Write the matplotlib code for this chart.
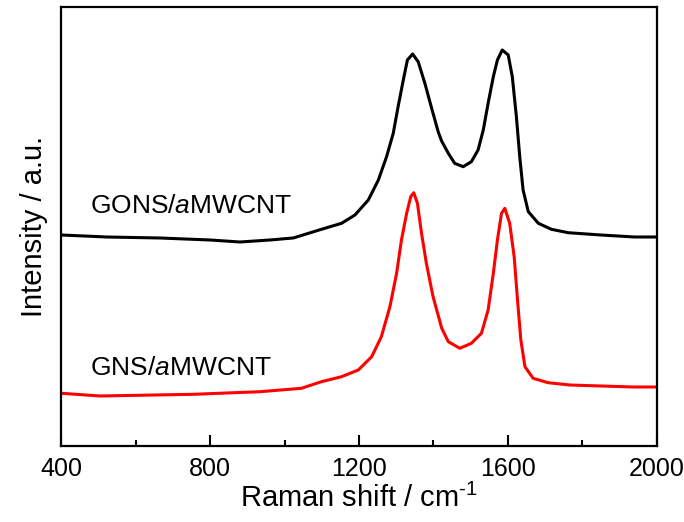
import numpy as np
import matplotlib
matplotlib.use('Agg')
import matplotlib.pyplot as plt
from matplotlib import rc
from matplotlib.ticker import MultipleLocator

rc('font', family='Liberation Sans', size=18)
rc('mathtext', fontset='custom', rm='Liberation Sans',
   it='Liberation Sans:italic')

# Raman shift (cm^-1) and intensity (a.u.)
gons_shift = [400, 522, 665, 800, 880, 960, 1023, 1045, 1099, 1153, 1189,
              1225, 1252, 1274, 1292, 1305, 1319, 1330, 1344, 1359, 1377,
              1395, 1413, 1422, 1440, 1457, 1480, 1502, 1520, 1534, 1547,
              1561, 1572, 1585, 1601, 1612, 1623, 1632, 1641, 1655, 1682,
              1717, 1762, 1850, 1941, 2000]
gons_int = [211, 209, 208, 206, 204, 206, 208, 210.5, 216.7, 222.7, 231,
            246, 266, 289.3, 312.7, 339.3, 366, 386, 392, 384.3, 362.7,
            338, 314, 305, 292.7, 282.7, 279.3, 284.3, 296, 316, 342.7,
            369.3, 386, 396, 391, 369.3, 329.3, 289.3, 256, 234.3, 222.7,
            216.7, 213.3, 211, 209, 209]

gns_shift = [400, 504, 755, 934, 1045, 1099, 1153, 1198, 1234, 1260, 1283,
             1301, 1314, 1328, 1339, 1347, 1357, 1368, 1381, 1399, 1417,
             1422, 1440, 1471, 1502, 1529, 1547, 1561, 1572, 1583, 1592,
             1605, 1617, 1626, 1635, 1646, 1668, 1708, 1767, 1850, 1940, 2000]
gns_int = [52.7, 50, 51.7, 54.3, 57.7, 64.3, 69.3, 76, 89.3, 109.3, 139.3,
           172.7, 206, 232.7, 249.3, 253.3, 242.7, 212.7, 182.7, 149.3, 125,
           118, 104.3, 97.7, 102.7, 112.7, 136, 172.7, 206, 232.7, 237.7,
           222.7, 189.3, 146, 106, 79.3, 67.7, 63.3, 61, 60, 59, 59]

fig = plt.figure(figsize=(6.84, 5.22), dpi=100)
ax = fig.add_axes([0.0898, 0.1456, 0.8702, 0.841])

ax.plot(gons_shift, gons_int, color='black', lw=2.2)
ax.plot(gns_shift, gns_int, color='red', lw=2.2)

ax.text(477, 233, 'GONS/$\\it{a}$MWCNT', fontsize=19, va='baseline')
ax.text(477, 71, 'GNS/$\\it{a}$MWCNT', fontsize=19, va='baseline')

ax.set_xlim(400, 2000)
ax.set_ylim(0, 439)
ax.xaxis.set_major_locator(MultipleLocator(400))
ax.xaxis.set_minor_locator(MultipleLocator(200))
ax.tick_params(axis='x', which='major', direction='in', length=8, width=1.5,
               pad=8, top=False)
ax.tick_params(axis='x', which='minor', direction='in', length=4, width=1.5,
               top=False)
ax.set_yticks([])
for sp in ax.spines.values():
    sp.set_linewidth(1.6)

ax.set_xlabel('Raman shift / cm$^{\\mathregular{\u20101}}$', fontsize=21,
              labelpad=2)
ax.set_ylabel('Intensity / a.u.', fontsize=21, labelpad=10)

fig.savefig('out.png', dpi=100)
